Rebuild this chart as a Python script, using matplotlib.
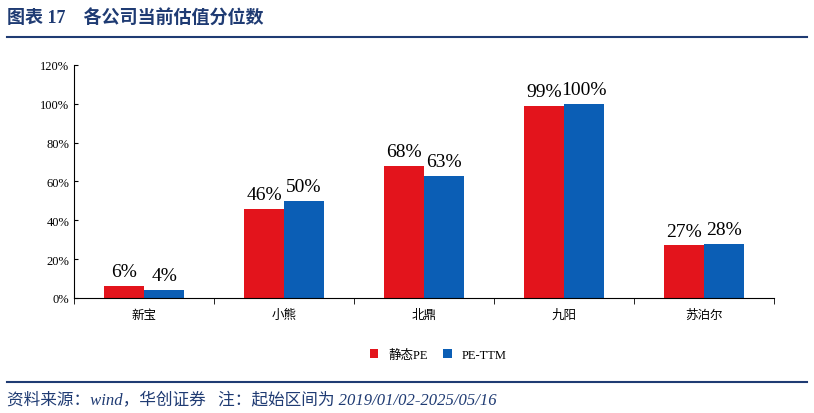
import matplotlib
matplotlib.use("Agg")
import matplotlib.pyplot as plt
import numpy as np

plt.rcParams['font.family'] = ['Liberation Serif', 'Noto Sans CJK SC']

companies = ["新宝", "小熊", "北鼎", "九阳", "苏泊尔"]
static_pe = [0.06, 0.46, 0.68, 0.99, 0.27]
pe_ttm = [0.04, 0.50, 0.63, 1.00, 0.28]
yticks = [0, 0.2, 0.4, 0.6, 0.8, 1.0, 1.2]

RED = "#E3141C"
BLUE = "#0B5EB5"
NAVY = "#1F3B73"

fig = plt.figure(figsize=(8.14, 4.14), dpi=100)
ax = fig.add_axes([0.091, 0.278, 0.860, 0.563])

x = np.arange(len(companies))
w = 0.286
ax.bar(x - w / 2, static_pe, w, color=RED, label="静态PE")
ax.bar(x + w / 2, pe_ttm, w, color=BLUE, label="PE-TTM")

for xi, v in zip(x - w / 2, static_pe):
    ax.text(xi, v + 0.03, f"{v*100:.0f}%", ha="center", va="bottom", fontsize=14)
for xi, v in zip(x + w / 2, pe_ttm):
    ax.text(xi, v + 0.03, f"{v*100:.0f}%", ha="center", va="bottom", fontsize=14)

ax.set_xlim(-0.5, len(companies) - 0.5)
ax.set_ylim(0, 1.2)
ax.set_yticks(yticks)
ax.set_yticklabels([f"{v*100:.0f}%" for v in yticks], fontsize=9)
ax.set_xticks(x)
ax.set_xticklabels(companies, fontsize=9)
ax.tick_params(axis="x", length=0, pad=8)
ax.tick_params(axis="y", direction="in", length=3)
for s in ["top", "right"]:
    ax.spines[s].set_visible(False)
ax.set_xticks(np.arange(len(companies) + 1) - 0.5, minor=True)
ax.tick_params(axis="x", which="minor", length=4, direction="out")

ax.legend(loc="upper center", bbox_to_anchor=(0.52, -0.17), ncol=2, frameon=False,
          fontsize=9, handlelength=0.7, handleheight=0.7, columnspacing=1.2)

fig.text(0.008, 0.955, "图表 17    各公司当前估值分位数", color=NAVY, fontsize=13,
         fontweight="bold", va="center")
fig.add_artist(plt.Line2D([0.008, 0.992], [0.908, 0.908], color=NAVY, lw=1.5))
fig.add_artist(plt.Line2D([0.008, 0.992], [0.075, 0.075], color=NAVY, lw=1.5))
fig.text(0.008, 0.033, "资料来源：wind，华创证券   注：起始区间为 2019/01/02-2025/05/16",
         color=NAVY, fontsize=12, style="italic", va="center")

fig.savefig("out.png", dpi=100)
